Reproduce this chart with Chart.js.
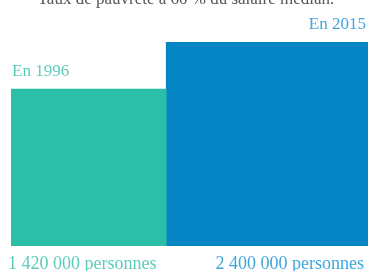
<!DOCTYPE html>
<html>
<head>
<meta charset="utf-8">
<script src="https://cdn.jsdelivr.net/npm/chart.js@4"></script>
<style>
  html, body { margin: 0; padding: 0; background: #fff; }
  #wrap { width: 369px; height: 271px; }
</style>
</head>
<body>
<div id="wrap"><canvas id="myChart"></canvas></div>
<script>
const title = "Taux de pauvreté à 60 % du salaire médian.";
const years = ["En 1996", "En 2015"];
const persons = [1420000, 2400000];
const personLabels = ["1 420 000 personnes", "2 400 000 personnes"];
const colors = ["#2cbfa8", "#0585c4"];
const textColors = ["#5ccdb9", "#3fa6dc"];

// squares: side is sqrt of the number of people
const sides = persons.map((p) => Math.sqrt(p));
const total = sides.reduce((a, b) => a + b, 0);

let start = 0;
const datasets = persons.map((p, i) => {
  const ds = {
    label: years[i],
    data: [{ x: start + sides[i] / 2, y: sides[i] }],
    backgroundColor: colors[i],
    borderWidth: 0,
    stack: "squares",
    barThickness: (c) => {
      const xs = c.chart.scales.x;
      return xs.getPixelForValue(sides[i]) - xs.getPixelForValue(0);
    },
  };
  start += sides[i];
  return ds;
});

const labelsPlugin = {
  id: "labels",
  afterDatasetsDraw(chart) {
    const ctx = chart.ctx;
    ctx.save();
    ctx.font = "17px 'Liberation Serif', serif";
    ctx.fillStyle = "#555";
    ctx.textAlign = "center";
    ctx.textBaseline = "alphabetic";
    ctx.fillText(title, 186, 4);
    chart.data.datasets.forEach((ds, i) => {
      const bar = chart.getDatasetMeta(i).data[0];
      const left = bar.x - bar.width / 2;
      const right = bar.x + bar.width / 2;
      ctx.fillStyle = textColors[i];
      if (i === 0) {
        ctx.textAlign = "left";
        ctx.font = "17px 'Liberation Serif', serif";
        ctx.fillText(years[i], left + 1, bar.y - 13);
        ctx.font = "18px 'Liberation Serif', serif";
        ctx.fillText(personLabels[i], left - 3, 269);
      } else {
        ctx.textAlign = "right";
        ctx.font = "17px 'Liberation Serif', serif";
        ctx.fillText(years[i], right - 2, bar.y - 13);
        ctx.font = "18px 'Liberation Serif', serif";
        ctx.fillText(personLabels[i], right - 4, 269);
      }
    });
    ctx.restore();
  },
};

const myChart = new Chart(document.getElementById("myChart"), {
  type: "bar",
  data: { datasets: datasets },
  options: {
    responsive: true,
    maintainAspectRatio: false,
    animation: false,
    layout: { padding: { left: 11, right: 1, top: 42, bottom: 25 } },
    scales: {
      x: { type: "linear", min: 0, max: total, display: false, offset: false },
      y: { min: 0, max: Math.max(...sides), display: false, stacked: false },
    },
    plugins: {
      legend: false,
      tooltip: { enabled: false },
    },
  },
  plugins: [labelsPlugin],
});
</script>
</body>
</html>
